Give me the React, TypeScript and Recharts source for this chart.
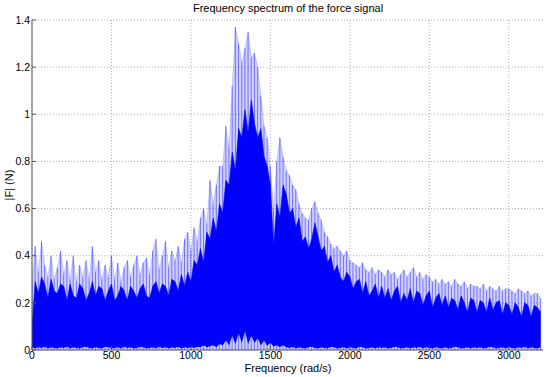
import React from 'react';
import {
  ComposedChart,
  Area,
  Bar,
  XAxis,
  YAxis,
  CartesianGrid,
} from 'recharts';

// Frequency bins (rad/s)
const freqs = [
  0, 20, 40, 60, 80, 100, 120, 140, 160, 180,
  200, 220, 240, 260, 280, 300, 320, 340, 360, 380,
  400, 420, 440, 460, 480, 500, 520, 540, 560, 580,
  600, 620, 640, 660, 680, 700, 720, 740, 760, 780,
  800, 820, 840, 860, 880, 900, 920, 940, 960, 980,
  1000, 1020, 1040, 1060, 1080, 1100, 1120, 1140, 1160, 1180,
  1200, 1220, 1240, 1260, 1280, 1300, 1320, 1340, 1360, 1380,
  1400, 1420, 1440, 1460, 1480, 1500, 1520, 1540, 1560, 1580,
  1600, 1620, 1640, 1660, 1680, 1700, 1720, 1740, 1760, 1780,
  1800, 1820, 1840, 1860, 1880, 1900, 1920, 1940, 1960, 1980,
  2000, 2020, 2040, 2060, 2080, 2100, 2120, 2140, 2160, 2180,
  2200, 2220, 2240, 2260, 2280, 2300, 2320, 2340, 2360, 2380,
  2400, 2420, 2440, 2460, 2480, 2500, 2520, 2540, 2560, 2580,
  2600, 2620, 2640, 2660, 2680, 2700, 2720, 2740, 2760, 2780,
  2800, 2820, 2840, 2860, 2880, 2900, 2920, 2940, 2960, 2980,
  3000, 3020, 3040, 3060, 3080, 3100, 3120, 3140, 3160, 3180, 3200,
];

// dense part of |F| (N)
const core = [
  0.10, 0.29, 0.24, 0.31, 0.28, 0.22, 0.30, 0.25, 0.24, 0.28,
  0.27, 0.21, 0.28, 0.23, 0.22, 0.28, 0.26, 0.21, 0.24, 0.29,
  0.23, 0.27, 0.26, 0.21, 0.25, 0.28, 0.21, 0.23, 0.27, 0.25,
  0.21, 0.27, 0.25, 0.22, 0.26, 0.28, 0.23, 0.22, 0.27, 0.29,
  0.24, 0.28, 0.27, 0.23, 0.30, 0.29, 0.25, 0.32, 0.27, 0.33,
  0.29, 0.38, 0.36, 0.43, 0.37, 0.50, 0.47, 0.56, 0.50, 0.62,
  0.58, 0.72, 0.70, 0.84, 0.76, 0.94, 0.90, 1.02, 0.92, 1.06,
  0.96, 0.90, 0.94, 0.82, 0.78, 0.70, 0.44, 0.62, 0.56, 0.70,
  0.66, 0.58, 0.60, 0.52, 0.56, 0.46, 0.48, 0.43, 0.47, 0.54,
  0.48, 0.42, 0.44, 0.37, 0.40, 0.33, 0.36, 0.31, 0.29, 0.33,
  0.31, 0.26, 0.29, 0.30, 0.24, 0.29, 0.23, 0.25, 0.28, 0.22,
  0.27, 0.22, 0.26, 0.21, 0.25, 0.27, 0.20, 0.24, 0.21, 0.26,
  0.20, 0.25, 0.24, 0.19, 0.23, 0.25, 0.18, 0.22, 0.24, 0.19,
  0.23, 0.18, 0.22, 0.21, 0.17, 0.23, 0.20, 0.16, 0.22, 0.21,
  0.16, 0.21, 0.20, 0.16, 0.22, 0.17, 0.20, 0.21, 0.15, 0.20,
  0.19, 0.15, 0.20, 0.18, 0.14, 0.20, 0.19, 0.14, 0.19, 0.18, 0.16,
];

// peak spikes
const spikes = [
  0.28, 0.44, 0.33, 0.46, 0.36, 0.31, 0.40, 0.30, 0.35, 0.42,
  0.32, 0.38, 0.30, 0.40, 0.29, 0.36, 0.31, 0.38, 0.30, 0.44,
  0.33, 0.38, 0.30, 0.36, 0.31, 0.40, 0.30, 0.37, 0.29, 0.35,
  0.38, 0.31, 0.36, 0.40, 0.32, 0.37, 0.39, 0.32, 0.42, 0.47,
  0.34, 0.40, 0.46, 0.35, 0.42, 0.38, 0.44, 0.37, 0.47, 0.50,
  0.42, 0.52, 0.46, 0.56, 0.60, 0.53, 0.72, 0.62, 0.70, 0.78,
  0.78, 0.95, 0.86, 1.12, 1.37, 1.30, 1.22, 1.28, 1.35, 1.24,
  1.26, 1.20, 1.08, 0.95, 0.90, 0.78, 0.60, 0.80, 0.90, 0.82,
  0.76, 0.74, 0.70, 0.68, 0.62, 0.58, 0.56, 0.55, 0.60, 0.63,
  0.58, 0.55, 0.50, 0.48, 0.45, 0.43, 0.44, 0.42, 0.40, 0.42,
  0.38, 0.37, 0.36, 0.35, 0.37, 0.34, 0.33, 0.35, 0.32, 0.34,
  0.33, 0.31, 0.34, 0.32, 0.33, 0.30, 0.32, 0.34, 0.31, 0.33,
  0.35, 0.31, 0.33, 0.30, 0.32, 0.31, 0.29, 0.30, 0.28, 0.30,
  0.28, 0.29, 0.27, 0.30, 0.28, 0.27, 0.29, 0.26, 0.28, 0.27,
  0.27, 0.26, 0.28, 0.25, 0.27, 0.26, 0.25, 0.27, 0.25, 0.26,
  0.26, 0.25, 0.24, 0.26, 0.25, 0.24, 0.25, 0.23, 0.24, 0.24, 0.22,
];

// low values near zero
const floor = [
  0.012, 0.006, 0.012, 0.008, 0.014, 0.006, 0.012, 0.008, 0.006, 0.012,
  0.008, 0.014, 0.006, 0.012, 0.008, 0.006, 0.012, 0.014, 0.008, 0.006,
  0.012, 0.008, 0.006, 0.014, 0.012, 0.006, 0.008, 0.012, 0.006, 0.014,
  0.008, 0.012, 0.006, 0.008, 0.014, 0.012, 0.006, 0.008, 0.012, 0.006,
  0.014, 0.008, 0.012, 0.006, 0.012, 0.008, 0.014, 0.006, 0.012, 0.008,
  0.012, 0.008, 0.014, 0.012, 0.02, 0.012, 0.016, 0.02, 0.012, 0.025,
  0.02, 0.04, 0.02, 0.06, 0.025, 0.07, 0.03, 0.08, 0.025, 0.06,
  0.03, 0.05, 0.02, 0.04, 0.018, 0.03, 0.015, 0.02, 0.012, 0.02,
  0.012, 0.008, 0.014, 0.006, 0.012, 0.008, 0.006, 0.012, 0.014, 0.008,
  0.006, 0.012, 0.008, 0.006, 0.014, 0.012, 0.006, 0.008, 0.012, 0.006,
  0.012, 0.008, 0.006, 0.014, 0.012, 0.006, 0.008, 0.012, 0.006, 0.012,
  0.008, 0.012, 0.006, 0.008, 0.014, 0.012, 0.006, 0.008, 0.012, 0.006,
  0.012, 0.008, 0.014, 0.006, 0.012, 0.008, 0.006, 0.012, 0.008, 0.006,
  0.012, 0.006, 0.008, 0.014, 0.012, 0.006, 0.008, 0.012, 0.006, 0.012,
  0.008, 0.012, 0.006, 0.008, 0.014, 0.012, 0.006, 0.008, 0.012, 0.006,
  0.012, 0.008, 0.006, 0.012, 0.008, 0.014, 0.006, 0.012, 0.008, 0.006, 0.012,
];

const xTicks = [0, 500, 1000, 1500, 2000, 2500, 3000];
const yTicks = [0, 0.2, 0.4, 0.6, 0.8, 1, 1.2, 1.4];

const data = freqs.map((f, i) => ({
  f,
  core: core[i],
  spike: spikes[i],
  floor: floor[i],
}));

const font = '"Liberation Sans", Arial, sans-serif';
const tickStyle = { fontSize: 10.5, fill: '#000', fontFamily: font };
const axisColor = '#555';

export default function App() {
  return (
    <div style={{ position: 'absolute', left: 0, top: 0, width: 550, height: 377, background: '#fff' }}>
      <ComposedChart
        width={550}
        height={377}
        data={data}
        margin={{ top: 20, right: 7, bottom: 7, left: 2 }}
      >
        <CartesianGrid
          stroke="#b0b0b0"
          strokeDasharray="1 2"
          horizontalValues={yTicks}
          verticalValues={xTicks}
        />
        <XAxis
          dataKey="f"
          type="number"
          domain={[0, 3215]}
          ticks={xTicks}
          allowDataOverflow
          height={20}
          stroke={axisColor}
          tick={tickStyle}
          tickSize={-4}
          tickMargin={6}
        />
        <XAxis
          xAxisId="top"
          orientation="top"
          dataKey="f"
          type="number"
          domain={[0, 3215]}
          ticks={xTicks}
          height={0}
          stroke={axisColor}
          tick={() => <g />}
          tickSize={-4}
        />
        <YAxis
          type="number"
          domain={[0, 1.4]}
          ticks={yTicks}
          allowDataOverflow
          width={30}
          stroke={axisColor}
          tick={tickStyle}
          tickSize={-4}
          tickMargin={6}
        />
        <YAxis
          yAxisId="right"
          orientation="right"
          type="number"
          domain={[0, 1.4]}
          ticks={yTicks}
          width={0}
          stroke={axisColor}
          tick={() => <g />}
          tickSize={-4}
        />
        <Area
          type="linear"
          dataKey="spike"
          stroke="#0000ff"
          strokeOpacity={0.25}
          strokeWidth={0.6}
          fill="#0000ff"
          fillOpacity={0.18}
          isAnimationActive={false}
        />
        <Bar
          dataKey="spike"
          barSize={1}
          fill="#0000ff"
          fillOpacity={0.45}
          isAnimationActive={false}
        />
        <Area
          type="linear"
          dataKey="core"
          stroke="#0000ff"
          strokeWidth={0.6}
          fill="#0000ff"
          fillOpacity={1}
          isAnimationActive={false}
        />
        <Area
          type="linear"
          dataKey="floor"
          stroke="none"
          fill="#ffffff"
          fillOpacity={0.8}
          isAnimationActive={false}
        />
        <text x={288} y={12} textAnchor="middle" fontSize={11} fontFamily={font} fill="#000">
          Frequency spectrum of the force signal
        </text>
        <text x={288} y={372} textAnchor="middle" fontSize={11} fontFamily={font} fill="#000">
          Frequency (rad/s)
        </text>
        <text
          x={13}
          y={185}
          textAnchor="middle"
          fontSize={11}
          fontFamily={font}
          fill="#000"
          transform="rotate(-90 13 185)"
        >
          |F| (N)
        </text>
      </ComposedChart>
    </div>
  );
}
